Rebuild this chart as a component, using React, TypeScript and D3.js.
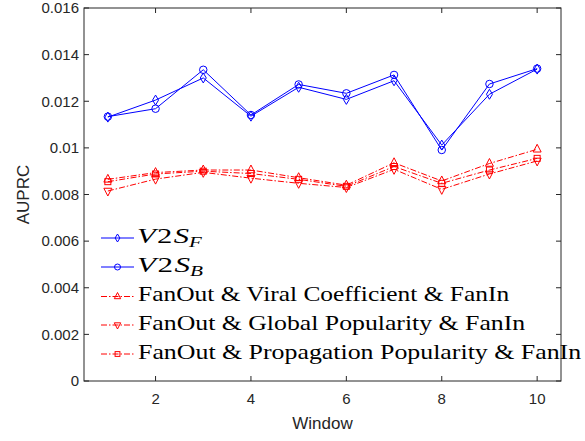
import React, { useLayoutEffect, useRef, useState } from "react";
import * as d3 from "d3";

const windows = [1, 2, 3, 4, 5, 6, 7, 8, 9, 10];
const v2sF = [0.01132, 0.01205, 0.0130, 0.01136, 0.0126, 0.01208, 0.01288, 0.01012, 0.0123, 0.01338];
const v2sB = [0.01134, 0.01168, 0.01335, 0.01141, 0.01272, 0.01234, 0.01313, 0.00991, 0.01274, 0.0134];
const viral = [0.00865, 0.00894, 0.00905, 0.00905, 0.00872, 0.0084, 0.00936, 0.00858, 0.00933, 0.00994];
const global = [0.00815, 0.00866, 0.00895, 0.0087, 0.00848, 0.0083, 0.00908, 0.00822, 0.00888, 0.00944];
const propagation = [0.00855, 0.00888, 0.009, 0.0089, 0.00865, 0.00835, 0.0092, 0.00848, 0.00905, 0.00955];
const yTicks = [0, 0.002, 0.004, 0.006, 0.008, 0.01, 0.012, 0.014, 0.016];
const xTicks = [2, 4, 6, 8, 10];
const legendLabels = ["FanOut & Viral Coefficient & FanIn", "FanOut & Global Popularity & FanIn", "FanOut & Propagation Popularity & FanIn"];
const legendWidths = [372, 388, 444];

const L = 84, R = 561, T = 8, B = 381;

function Marker({ type, x, y, color, s }: { type: string; x: number; y: number; color: string; s: number }) {
  const common = { fill: "none", stroke: color, strokeWidth: 1 };
  if (type === "diamond") {
    return <path d={`M${x},${y - s}L${x + s * 0.6},${y}L${x},${y + s}L${x - s * 0.6},${y}Z`} {...common} />;
  }
  if (type === "circle") return <circle cx={x} cy={y} r={s * 0.75} {...common} />;
  if (type === "up") return <path d={`M${x},${y - s}L${x + s * 0.8},${y + s * 0.55}L${x - s * 0.8},${y + s * 0.55}Z`} {...common} />;
  if (type === "down") return <path d={`M${x},${y + s}L${x + s * 0.8},${y - s * 0.55}L${x - s * 0.8},${y - s * 0.55}Z`} {...common} />;
  return <rect x={x - s * 0.6} y={y - s * 0.6} width={s * 1.2} height={s * 1.2} {...common} />;
}

function FitText({ x, y, width, fontSize, children }: { x: number; y: number; width: number; fontSize: number; children: React.ReactNode }) {
  const ref = useRef<SVGTextElement>(null);
  const [k, setK] = useState(1);
  useLayoutEffect(() => {
    if (ref.current) {
      const w = ref.current.getBBox().width;
      if (w > 0) setK(width / w);
    }
  }, [width]);
  return (
    <text ref={ref} transform={`translate(${x},${y}) scale(${k},1)`} fontFamily="Liberation Serif, serif" fontSize={fontSize} fill="#000">
      {children}
    </text>
  );
}

export default function App() {
  const x = d3.scaleLinear().domain([0.5, 10.5]).range([L, R]);
  const y = d3.scaleLinear().domain([0, 0.016]).range([B, T]);
  const line = d3.line<number>().x((_, i) => x(windows[i])).y((d) => y(d));
  const series = [
    { data: v2sF, color: "#0000ff", marker: "diamond", dash: "" },
    { data: v2sB, color: "#0000ff", marker: "circle", dash: "" },
    { data: viral, color: "#ff0000", marker: "up", dash: "6,2,1.5,2" },
    { data: global, color: "#ff0000", marker: "down", dash: "6,2,1.5,2" },
    { data: propagation, color: "#ff0000", marker: "square", dash: "6,2,1.5,2" },
  ];
  const axisColor = "#262626";
  const legendY = [238, 267, 296.5, 325, 354];
  return (
    <div style={{ position: "absolute", left: 0, top: 0 }}>
      <svg width={585} height={441} style={{ display: "block" }}>
        <rect width={585} height={441} fill="#fff" />
        {series.map((s, si) => (
          <g key={si}>
            <path d={line(s.data) || ""} fill="none" stroke={s.color} strokeWidth={1} strokeDasharray={s.dash || undefined} />
            {s.data.map((v, i) => (
              <Marker key={i} type={s.marker} x={x(windows[i])} y={y(v)} color={s.color} s={5} />
            ))}
          </g>
        ))}
        <rect x={L} y={T} width={R - L} height={B - T} fill="none" stroke={axisColor} strokeWidth={1} />
        {yTicks.map((t) => (
          <g key={t}>
            <line x1={L} x2={L + 5} y1={y(t)} y2={y(t)} stroke={axisColor} />
            <line x1={R} x2={R - 5} y1={y(t)} y2={y(t)} stroke={axisColor} />
            <text x={L - 5} y={y(t)} dy="0.35em" textAnchor="end" fontFamily="Liberation Sans, Arial, sans-serif" fontSize={15} fill={axisColor}>
              {t === 0 ? "0" : t === 0.01 ? "0.01" : t.toFixed(3)}
            </text>
          </g>
        ))}
        {xTicks.map((t) => (
          <g key={t}>
            <line x1={x(t)} x2={x(t)} y1={B} y2={B - 5} stroke={axisColor} />
            <line x1={x(t)} x2={x(t)} y1={T} y2={T + 5} stroke={axisColor} />
            <text x={x(t)} y={399} dy="0.35em" textAnchor="middle" fontFamily="Liberation Sans, Arial, sans-serif" fontSize={15} fill={axisColor}>
              {t}
            </text>
          </g>
        ))}
        <text x={(L + R) / 2} y={423} dy="0.35em" textAnchor="middle" fontFamily="Liberation Sans, Arial, sans-serif" fontSize={17} fill={axisColor}>
          Window
        </text>
        <text transform={`translate(23,${(T + B) / 2}) rotate(-90)`} dy="0.35em" textAnchor="middle" fontFamily="Liberation Sans, Arial, sans-serif" fontSize={17} fill={axisColor}>
          AUPRC
        </text>
        {series.map((s, i) => (
          <g key={"l" + i}>
            <line x1={101} x2={134} y1={legendY[i]} y2={legendY[i]} stroke={s.color} strokeWidth={1} strokeDasharray={s.dash || undefined} />
            <Marker type={s.marker} x={117.5} y={legendY[i]} color={s.color} s={4} />
            {i < 2 ? (
              <FitText x={137} y={legendY[i] + 5.3} width={66} fontSize={22}>
                <tspan fontStyle="italic">V</tspan>
                <tspan dx="1">2</tspan>
                <tspan fontStyle="italic" dx="1">S</tspan>
                <tspan fontStyle="italic" fontSize={15} dy="4">{i === 0 ? "F" : "B"}</tspan>
              </FitText>
            ) : (
              <FitText x={138} y={legendY[i] + 4.5} width={legendWidths[i - 2]} fontSize={21}>
                {legendLabels[i - 2]}
              </FitText>
            )}
          </g>
        ))}
      </svg>
    </div>
  );
}
